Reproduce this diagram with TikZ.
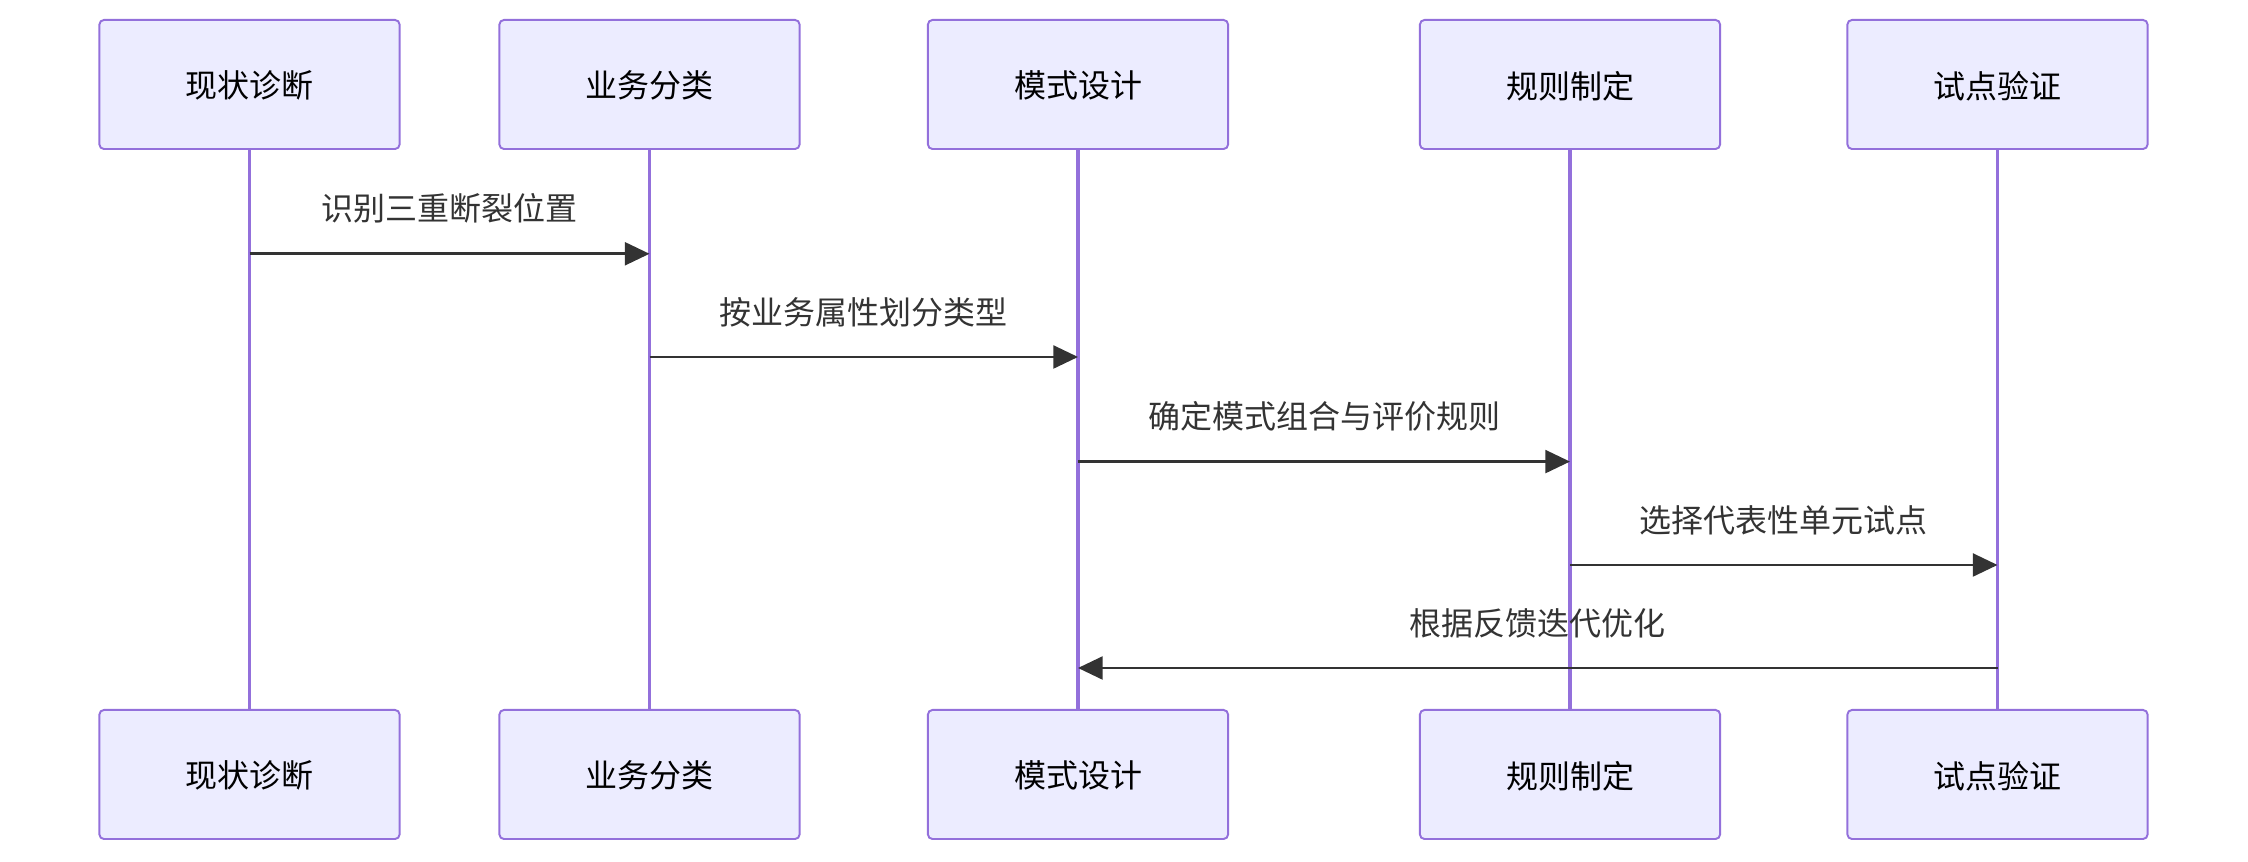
\documentclass[tikz,border=0pt]{standalone}
\usepackage{fontspec}
\newfontfamily\cjk{Noto Sans CJK SC}
\usetikzlibrary{arrows.meta,positioning}
\definecolor{actfill}{HTML}{ECECFF}
\definecolor{actline}{HTML}{9370DB}
\definecolor{msgline}{HTML}{333333}
\begin{document}
\begin{tikzpicture}[x=0.01cm, y=-0.01cm, font=\cjk\fontsize{9.1}{11}\selectfont,
  actor/.style={draw=actline, fill=actfill, line width=0.55pt, rounded corners=1.3pt,
                minimum width=3cm, minimum height=1.29cm, inner sep=0pt,
                text depth=0pt},
  life/.style={actline, line width=1.1pt},
  msg/.style={msgline, line width=0.75pt, -{Triangle[length=7pt,width=6.5pt]}},
  msglabel/.style={text=msgline, inner sep=0pt}]
  \useasboundingbox (0,0) rectangle (2248,862);
  % Actor boxes, top and bottom
  \foreach \n/\x/\t in {a/249.5/现状诊断, b/649.5/业务分类, c/1078/模式设计,
                        d/1570/规则制定, e/1997.5/试点验证}{
    \node[actor] (\n-top) at (\x,84.5) {\t};
    \node[actor] (\n-bot) at (\x,774.5) {\t};
  }
  % Lifelines
  \foreach \n in {a,b,c,d,e}{
    \draw[life] (\n-top) -- (\n-bot);
  }
  % Messages
  \foreach \i/\f/\t/\y/\l in {1/a/b/253.8/识别三重断裂位置, 2/b/c/357/按业务属性划分类型,
                              3/c/d/461.6/确定模式组合与评价规则, 4/d/e/565/选择代表性单元试点,
                              5/e/c/668/根据反馈迭代优化}{
    \coordinate (m\i-from) at (\f-top.south |- 0,\y);
    \coordinate (m\i-to) at (\t-top.south |- 0,\y);
    \draw[msg] (m\i-from) -- (m\i-to)
      node[midway, yshift=12.8pt, msglabel] {\l};
  }
\end{tikzpicture}
\end{document}
